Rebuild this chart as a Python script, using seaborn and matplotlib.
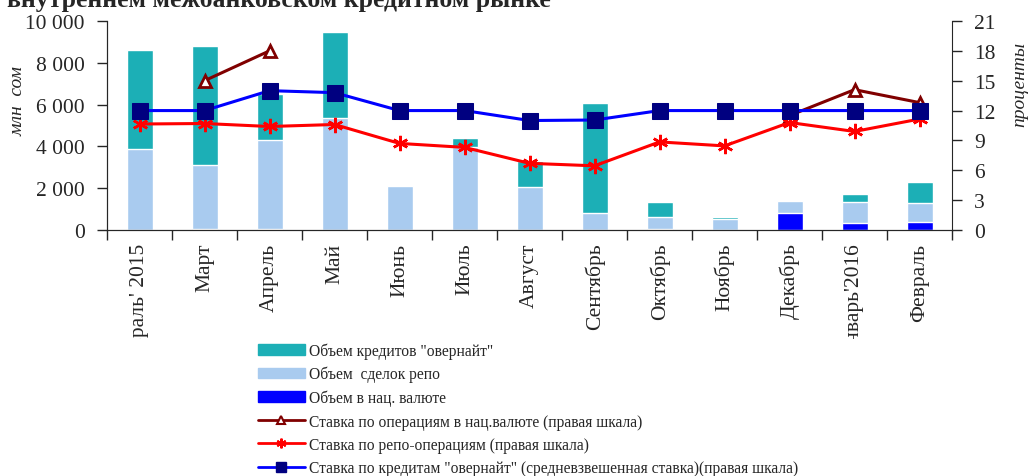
import numpy as np
import pandas as pd
import seaborn as sns
import matplotlib.pyplot as plt
from matplotlib.lines import Line2D
from matplotlib.patches import Patch
from matplotlib.transforms import Bbox

# Данные (млн сом и проценты)
months = ["Февраль' 2015", "Март", "Апрель", "Май", "Июнь", "Июль", "Август",
          "Сентябрь", "Октябрь", "Ноябрь", "Декабрь", "Январь'2016", "Февраль"]
vol_nat = [0, 30, 70, 0, 0, 0, 0, 0, 60, 0, 800, 330, 400]
vol_repo = [3870, 3090, 4230, 5350, 2120, 3950, 2050, 810, 560, 530, 600, 1010, 880]
vol_overnight = [4730, 5670, 2200, 4100, 0, 450, 1230, 5250, 730, 90, 0, 380, 1000]
rate_nat = [np.nan, 15.0, 18.0, np.nan, np.nan, np.nan, np.nan, np.nan,
            np.nan, np.nan, 11.5, 14.1, 12.8]
rate_repo = [10.65, 10.7, 10.4, 10.6, 8.7, 8.3, 6.7, 6.45, 8.85, 8.45, 10.8, 9.9, 11.15]
rate_overnight = [12.0, 12.0, 14.0, 13.8, 12.0, 12.0, 11.0, 11.05, 12.0, 12.0, 12.0, 12.0, 12.0]

df = pd.DataFrame({'month': months, 'nat': vol_nat, 'repo': vol_repo,
                   'on': vol_overnight, 'r_nat': rate_nat, 'r_repo': rate_repo,
                   'r_on': rate_overnight})
df['x'] = np.arange(len(df))
df['lvl2'] = df['nat'] + df['repo']
df['lvl3'] = df['lvl2'] + df['on']

sns.set_style('ticks')
plt.rcParams['font.family'] = ['Liberation Serif', 'DejaVu Serif']

c_on = '#1cafb6'
c_repo = '#a9cbef'
c_nat = '#0000ff'
fs_tick = 15.5

fig = plt.figure(figsize=(10.3, 4.77), dpi=100)
ax = fig.add_axes([0.1039, 0.5157, 0.8204, 0.4382])

# Столбцы с накоплением
sns.barplot(data=df, x='x', y='lvl3', color=c_on, width=0.4, ax=ax, saturation=1)
sns.barplot(data=df, x='x', y='lvl2', color=c_repo, width=0.4, ax=ax, saturation=1)
sns.barplot(data=df, x='x', y='nat', color=c_nat, width=0.4, ax=ax, saturation=1)

ax.set_xlim(-0.5, len(months) - 0.5)
ax.set_ylim(0, 10000)
ax.set_yticks(np.arange(0, 10001, 2000))
ax.set_yticklabels([f'{v:,}'.replace(',', ' ') for v in range(0, 10001, 2000)],
                   fontsize=fs_tick)
ax.tick_params(axis='y', length=7, width=1, pad=9)
ax.set_xticks(np.arange(len(months)))
ax.set_xticklabels(months, rotation=90, fontsize=fs_tick, va='top', ha='center')
ax.tick_params(axis='x', length=0, pad=9)
ax.set_xticks(np.arange(-0.5, len(months)), minor=True)
ax.tick_params(axis='x', which='minor', length=7, width=1)
ax.set_xlabel('')
ax.set_ylabel('')
ax.spines['top'].set_visible(False)
ax.spines['right'].set_visible(False)

# Правая шкала
ax2 = ax.twinx()
ax2.set_ylim(0, 21)
ax2.set_yticks(np.arange(0, 22, 3))
ax2.tick_params(axis='y', labelsize=fs_tick, length=7, width=1, pad=9)
ax2.spines['top'].set_visible(False)

seg1 = df.iloc[1:3]
seg2 = df.iloc[10:13]
for seg in (seg1, seg2):
    sns.lineplot(data=seg, x='x', y='r_nat', color='#800000', lw=2.2, marker='^',
                 markersize=9, markerfacecolor='white', markeredgecolor='#800000',
                 markeredgewidth=2, ax=ax2, legend=False)
sns.lineplot(data=df, x='x', y='r_repo', color='#ff0000', lw=2.2, marker=(6, 2, 0),
             markersize=11, markeredgecolor='#ff0000', markeredgewidth=1.8,
             ax=ax2, legend=False)
sns.lineplot(data=df, x='x', y='r_on', color='#0000ff', lw=2.2, marker='s',
             markersize=11, markerfacecolor='#000080', markeredgecolor='#000080',
             ax=ax2, legend=False)
ax2.set_xlim(-0.5, len(months) - 0.5)
ax2.set_ylabel('')
ax2.set_xlabel('')

# Подписи осей
fig.text(0.018, 0.788, 'млн  сом', rotation=90, style='italic', fontsize=14,
         ha='center', va='center')
fig.text(0.990, 0.822, 'проценты', rotation=90, style='italic', fontsize=14,
         ha='center', va='center')
fig.text(0.007, 1.0, 'внутреннем межбанковском кредитном рынке', fontsize=18.5,
         fontweight='bold', ha='left', va='center')

# Обрезка подписей месяцев
clip = Bbox.from_extents(0, 137, 1030, 477)
for lbl in ax.get_xticklabels():
    lbl.set_clip_on(True)
    lbl.set_clip_box(clip)

handles = [
    Patch(color=c_on, label='Объем кредитов "овернайт"'),
    Patch(color=c_repo, label='Объем  сделок репо'),
    Patch(color=c_nat, label='Объем в нац. валюте'),
    Line2D([], [], color='#800000', lw=2, marker='^', markersize=6,
           markerfacecolor='white', markeredgewidth=1.5,
           label='Ставка по операциям в нац.валюте (правая шкала)'),
    Line2D([], [], color='#ff0000', lw=2, marker=(6, 2, 0), markersize=7,
           markeredgewidth=1.5, label='Ставка по репо-операциям (правая шкала)'),
    Line2D([], [], color='#0000ff', lw=2, marker='s', markersize=7,
           markerfacecolor='#000080', markeredgecolor='#000080',
           label='Ставка по кредитам "овернайт" (средневзвешенная ставка)(правая шкала)'),
]
fig.legend(handles=handles, loc='upper left', bbox_to_anchor=(0.243, 0.297),
           frameon=False, fontsize=11.2, handlelength=3.0, handletextpad=0.3,
           labelspacing=0.47, borderpad=0)

fig.savefig('out.png', dpi=100)
